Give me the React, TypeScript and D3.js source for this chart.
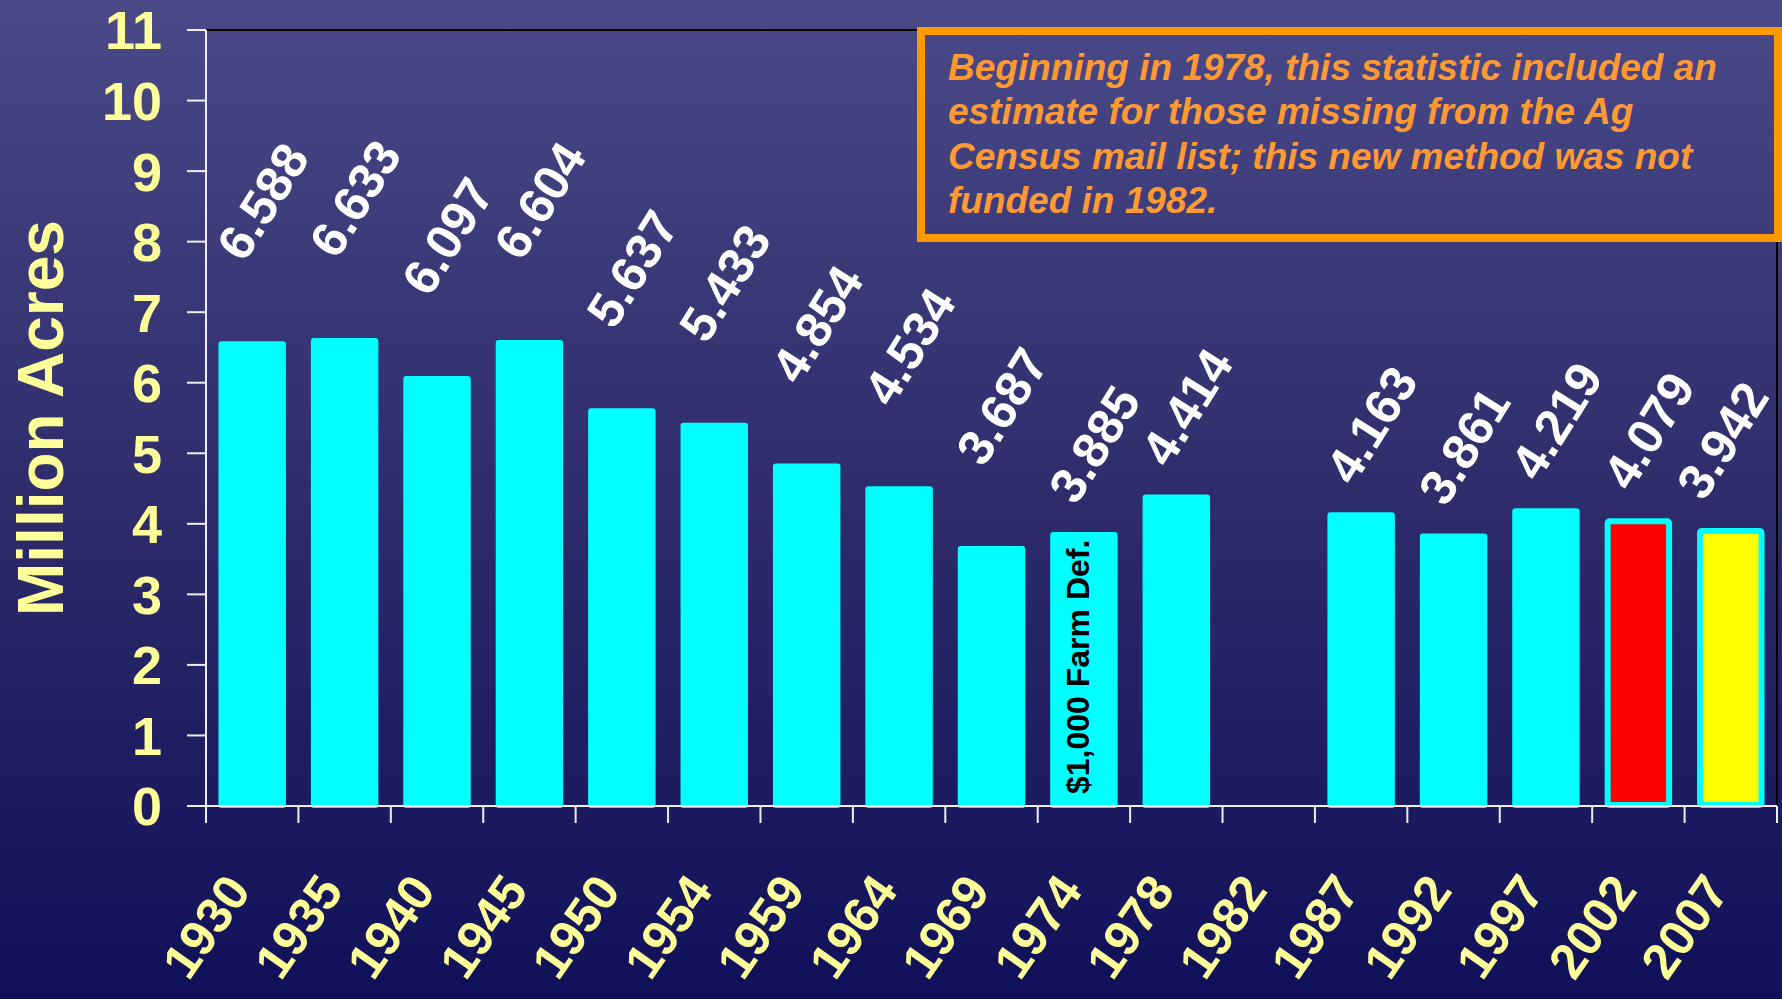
import React from "react";
import * as d3 from "d3";

// census years and land in farms (million acres)
const years = ["1930", "1935", "1940", "1945", "1950", "1954", "1959", "1964", "1969", "1974", "1978", "1982", "1987", "1992", "1997", "2002", "2007"];
const acres: (number | null)[] = [6.588, 6.633, 6.097, 6.604, 5.637, 5.433, 4.854, 4.534, 3.687, 3.885, 4.414, null, 4.163, 3.861, 4.219, 4.079, 3.942];
const valueLabels = ["6.588", "6.633", "6.097", "6.604", "5.637", "5.433", "4.854", "4.534", "3.687", "3.885", "4.414", "", "4.163", "3.861", "4.219", "4.079", "3.942"];
const yTicks = [0, 1, 2, 3, 4, 5, 6, 7, 8, 9, 10, 11];
const noteLines = [
  "Beginning in 1978, this statistic included an",
  "estimate for those missing from the Ag",
  "Census mail list; this new method was not",
  "funded in 1982.",
];
const barNote = "$1,000 Farm Def.";
const noteYear = "1974";

const W = 1782;
const H = 999;
const left = 206;
const right = 1777;
const top = 30;
const bottom = 806;

const highlight: Record<string, string> = { "2002": "#ff0000", "2007": "#ffff00" };
const font = "Arial, 'Liberation Sans', Helvetica, sans-serif";
const yellow = "#ffff99";

export default function App() {
  const x = d3.scaleBand().domain(years).range([left, right]).paddingInner(0.27).paddingOuter(0.135);
  const y = d3.scaleLinear().domain([0, 11]).range([bottom, top]);
  const step = x.step();
  const bw = x.bandwidth();
  const bounds = d3.range(years.length + 1).map(i => left + i * step);
  const splitIdx = years.indexOf(noteYear);

  return (
    <svg width={W} height={H} style={{ position: "absolute", left: 0, top: 0, display: "block" }} fontFamily={font}>
      <defs>
        <linearGradient id="bg" x1="0" y1="0" x2="0" y2={H} gradientUnits="userSpaceOnUse">
          <stop offset="0" stopColor="#4a4a88" />
          <stop offset="0.5" stopColor="#2e2c6a" />
          <stop offset="1" stopColor="#10105a" />
        </linearGradient>
      </defs>
      <rect x={0} y={0} width={W} height={H} fill="url(#bg)" />

      {/* frame */}
      <line x1={left} x2={right} y1={top} y2={top} stroke="#000" strokeWidth={2} />
      <line x1={right} x2={right} y1={top} y2={bottom} stroke="#000" strokeWidth={2} />

      {/* bars */}
      {years.map((yr, i) => {
        const v = acres[i];
        if (v == null) return null;
        const x0 = x(yr)!;
        const yTop = y(v);
        const h = bottom + 2 - yTop;
        const hl = highlight[yr];
        if (hl) {
          return <rect key={yr} x={x0 + 3} y={yTop + 3} width={bw - 6} height={h - 6} fill={hl} stroke="#00ffff" strokeWidth={6} rx={2} />;
        }
        return <rect key={yr} x={x0} y={yTop} width={bw} height={h} fill="#00ffff" rx={3} />;
      })}

      {/* bar note */}
      {(() => {
        const cx = x(noteYear)! + bw / 2 - 6;
        return (
          <text transform={`translate(${cx},${bottom - 12}) rotate(-90)`} dy="0.35em" fontSize={32} fontWeight="bold" fill="#000">
            {barNote}
          </text>
        );
      })()}

      {/* axes */}
      <line x1={left} x2={left} y1={top} y2={bottom} stroke="#eeeeee" strokeWidth={2} />
      <line x1={187} x2={right} y1={bottom} y2={bottom} stroke="#eeeeee" strokeWidth={2} />
      {yTicks.map(t => (
        <g key={t}>
          <line x1={187} x2={left} y1={y(t)} y2={y(t)} stroke="#eeeeee" strokeWidth={2} />
          <text x={162} y={y(t)} dy="0.36em" textAnchor="end" fontSize={54} fontWeight="bold" fill={yellow}>{t}</text>
        </g>
      ))}
      {bounds.map((b, i) => (
        <line key={i} x1={b} x2={b} y1={bottom} y2={bottom + 17} stroke="#eeeeee" strokeWidth={2} />
      ))}
      {years.map(yr => {
        const cx = x(yr)! + bw / 2;
        return (
          <text key={yr} transform={`translate(${cx},${bottom + 85}) rotate(-55)`} textAnchor="end" fontSize={50} fontWeight="bold" fill={yellow}>
            {yr}
          </text>
        );
      })}

      {/* value labels */}
      {years.map((yr, i) => {
        const v = acres[i];
        if (v == null) return null;
        const cx = Math.min(x(yr)! + bw / 2 + 10, W - 60);
        const cy = y(v) - (i < splitIdx ? 140 : 88);
        return (
          <text key={yr} transform={`translate(${cx},${cy}) rotate(-58)`} textAnchor="middle" dy="0.36em" fontSize={50} fontWeight="bold" fill="#ffffff">
            {valueLabels[i]}
          </text>
        );
      })}

      {/* y title */}
      <text transform={`translate(40,418) rotate(-90)`} textAnchor="middle" dy="0.36em" fontSize={64} fontWeight="bold" fill={yellow}>
        Million Acres
      </text>

      {/* note box */}
      <rect x={921} y={31} width={857} height={207} fill="url(#bg)" stroke="#ff9900" strokeWidth={8} />
      {noteLines.map((ln, i) => (
        <text key={i} x={948} y={80 + i * 44.4} fontSize={37} fontWeight="bold" fontStyle="italic" fill="#ff9933">
          {ln}
        </text>
      ))}
    </svg>
  );
}
